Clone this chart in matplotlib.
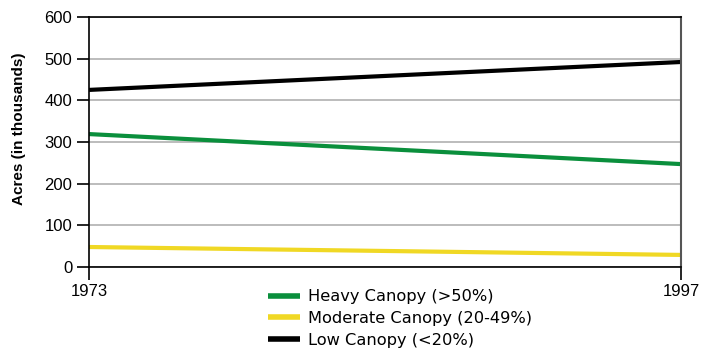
import matplotlib
matplotlib.use("Agg")
import matplotlib.pyplot as plt

plt.rcParams['font.family'] = ['Liberation Sans', 'DejaVu Sans']

years = [1973, 1997]
heavy = [319, 247]
moderate = [48, 29]
low = [425, 492]
labels = ["Heavy Canopy (>50%)", "Moderate Canopy (20-49%)", "Low Canopy (<20%)"]
colors = ["#0a8f3c", "#f0d824", "#000000"]

fig = plt.figure(figsize=(7.12, 3.51), dpi=100)
ax = fig.add_axes([0.125, 0.2393, 0.8315, 0.7123])

for vals, lab, c in zip([heavy, moderate, low], labels, colors):
    ax.plot(years, vals, color=c, lw=3, label=lab, solid_capstyle='butt')

ax.set_xlim(1973, 1997)
ax.set_ylim(0, 600)
ax.set_yticks(range(0, 601, 100))
ax.set_xticks(years)
ax.grid(axis='y', color='#b0b0b0', lw=1.2)
ax.set_axisbelow(True)
for s in ['top', 'left', 'bottom']:
    ax.spines[s].set_color('black')
    ax.spines[s].set_linewidth(1.2)
ax.spines['right'].set_color('#555555')
ax.spines['right'].set_linewidth(1.5)
ax.tick_params(axis='y', length=9, width=1.2, labelsize=12, pad=3)
ax.tick_params(axis='x', length=9, width=1.2, labelsize=12, pad=3)
ax.set_ylabel("Acres (in thousands)", fontsize=11, fontweight='bold', labelpad=12)
ax.yaxis.set_label_coords(-0.107, 0.552)

leg = fig.legend(loc='upper left', bbox_to_anchor=(0.376, 0.176), frameon=False,
                 prop={'family': 'DejaVu Sans', 'size': 11.7},
                 handlelength=2.0, handletextpad=0.45,
                 labelspacing=0.42, borderpad=0, borderaxespad=0)
for h in leg.get_lines():
    h.set_linewidth(4)

fig.savefig("out.png", dpi=100)
